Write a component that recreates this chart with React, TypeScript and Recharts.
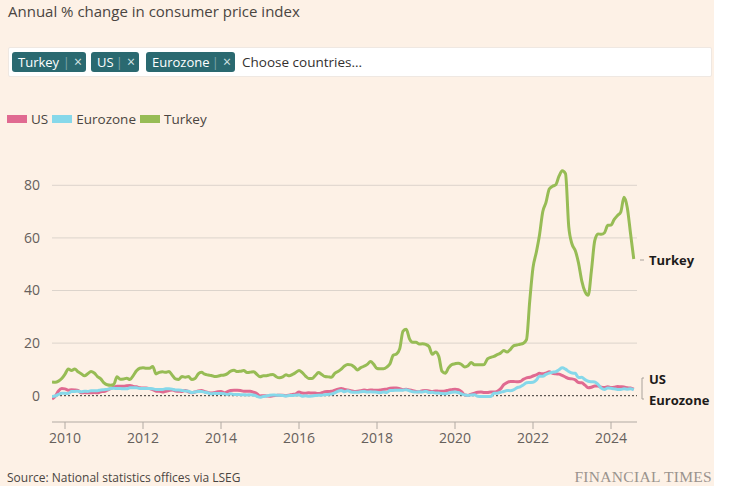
import React from 'react';
import { LineChart, Line, XAxis, YAxis, CartesianGrid, ReferenceLine } from 'recharts';

// Monthly series, September 2009 to August 2024
const START_YEAR = 2009;
const START_MONTH_INDEX = 8; // September (0-based)

const turkey = [
  5.27, 5.08, 5.53, 6.53,
  8.19, 10.13, 9.56, 10.19, 9.10, 8.37, 7.58, 8.33, 9.24, 8.62, 7.29, 6.40,
  4.90, 4.16, 3.99, 4.26, 7.17, 6.24, 6.31, 6.65, 6.15, 7.66, 9.48, 10.45,
  10.61, 10.43, 10.43, 11.14, 8.28, 8.87, 9.07, 8.88, 9.19, 7.80, 6.37, 6.16,
  7.31, 7.03, 7.29, 6.13, 6.51, 8.30, 8.88, 8.17, 7.88, 7.71, 7.32, 7.40,
  7.75, 7.89, 8.39, 9.38, 9.66, 9.16, 9.32, 9.54, 8.86, 8.96, 9.15, 8.17,
  7.24, 7.55, 7.61, 7.91, 8.09, 7.20, 6.81, 7.14, 7.95, 7.58, 8.10, 8.81,
  9.58, 8.78, 7.46, 6.57, 6.58, 7.64, 8.79, 8.05, 7.28, 7.16, 7.00, 8.53,
  9.22, 10.13, 11.29, 11.87, 11.72, 10.90, 9.79, 10.68, 11.20, 11.90, 12.98, 11.92,
  10.35, 10.26, 10.23, 10.85, 12.15, 15.39, 15.85, 17.90, 24.52, 25.24, 21.62, 20.30,
  20.35, 19.67, 19.71, 19.50, 18.71, 15.72, 16.65, 15.01, 9.26, 8.55, 10.56, 11.84,
  12.15, 12.37, 11.86, 10.94, 11.39, 12.62, 11.76, 11.77, 11.75, 11.89, 14.03, 14.60,
  14.97, 15.61, 16.19, 17.14, 16.59, 17.53, 18.95, 19.25, 19.58, 19.89, 21.31, 36.08,
  48.69, 54.44, 61.14, 69.97, 73.50, 78.62, 79.60, 80.21, 83.45, 85.51, 84.39, 64.27,
  57.68, 55.18, 50.51, 43.68, 39.59, 38.21, 47.83, 58.94, 61.53, 61.36, 61.98, 64.77,
  64.86, 67.07, 68.50, 69.80, 75.45, 71.60, 61.78, 51.97,
];

const us = [
  -1.3, -0.2, 1.8, 2.7,
  2.6, 2.1, 2.3, 2.2, 2.0, 1.1, 1.2, 1.1, 1.1, 1.2, 1.1, 1.5,
  1.6, 2.1, 2.7, 3.2, 3.6, 3.6, 3.6, 3.8, 3.9, 3.5, 3.4, 3.0,
  2.9, 2.9, 2.7, 2.3, 1.7, 1.7, 1.4, 1.7, 2.0, 2.2, 1.8, 1.7,
  1.6, 2.0, 1.5, 1.1, 1.4, 1.8, 2.0, 1.5, 1.2, 1.0, 1.2, 1.5,
  1.6, 1.1, 1.5, 2.0, 2.1, 2.1, 2.0, 1.7, 1.7, 1.7, 1.3, 0.8,
  -0.1, 0.0, -0.1, -0.2, 0.0, 0.1, 0.2, 0.2, 0.0, 0.2, 0.5, 0.7,
  1.4, 1.0, 0.9, 1.1, 1.0, 1.0, 0.8, 1.1, 1.5, 1.6, 1.7, 2.1,
  2.5, 2.7, 2.4, 2.2, 1.9, 1.6, 1.7, 1.9, 2.2, 2.0, 2.2, 2.1,
  2.1, 2.2, 2.4, 2.5, 2.8, 2.9, 2.9, 2.7, 2.3, 2.5, 2.2, 1.9,
  1.6, 1.5, 1.9, 2.0, 1.8, 1.6, 1.8, 1.7, 1.7, 1.8, 2.1, 2.3,
  2.5, 2.3, 1.5, 0.3, 0.1, 0.6, 1.0, 1.3, 1.4, 1.2, 1.2, 1.4,
  1.4, 1.7, 2.6, 4.2, 5.0, 5.4, 5.4, 5.3, 5.4, 6.2, 6.8, 7.0,
  7.5, 7.9, 8.5, 8.3, 8.6, 9.1, 8.5, 8.3, 8.2, 7.7, 7.1, 6.5,
  6.4, 6.0, 5.0, 4.9, 4.0, 3.0, 3.2, 3.7, 3.7, 3.2, 3.1, 3.4,
  3.1, 3.2, 3.5, 3.4, 3.3, 3.0, 2.9, 2.5,
];

const eurozone = [
  -0.3, -0.1, 0.5, 0.9,
  0.9, 0.8, 1.6, 1.6, 1.7, 1.5, 1.7, 1.6, 1.9, 1.9, 1.9, 2.2,
  2.3, 2.4, 2.7, 2.8, 2.7, 2.7, 2.6, 2.6, 3.0, 3.0, 3.0, 2.7,
  2.7, 2.7, 2.7, 2.6, 2.4, 2.4, 2.4, 2.6, 2.6, 2.5, 2.2, 2.2,
  2.0, 1.8, 1.7, 1.2, 1.4, 1.6, 1.6, 1.3, 1.1, 0.7, 0.9, 0.8,
  0.8, 0.7, 0.5, 0.7, 0.5, 0.5, 0.4, 0.4, 0.3, 0.4, 0.3, -0.2,
  -0.6, -0.3, -0.1, 0.2, 0.3, 0.2, 0.2, 0.1, -0.1, 0.1, 0.1, 0.2,
  0.3, -0.2, 0.0, -0.2, -0.1, 0.1, 0.2, 0.2, 0.4, 0.5, 0.6, 1.1,
  1.7, 2.0, 1.5, 1.9, 1.4, 1.3, 1.3, 1.5, 1.6, 1.4, 1.5, 1.4,
  1.3, 1.1, 1.4, 1.2, 2.0, 2.0, 2.1, 2.1, 2.1, 2.3, 1.9, 1.5,
  1.4, 1.5, 1.4, 1.7, 1.2, 1.3, 1.0, 1.0, 0.8, 0.7, 1.0, 1.3,
  1.4, 1.2, 0.7, 0.3, 0.1, 0.3, 0.4, -0.2, -0.3, -0.3, -0.3, -0.3,
  0.9, 0.9, 1.3, 1.6, 2.0, 1.9, 2.2, 3.0, 3.4, 4.1, 4.9, 5.0,
  5.1, 5.9, 7.4, 7.4, 8.1, 8.6, 8.9, 9.1, 9.9, 10.6, 10.1, 9.2,
  8.6, 8.5, 6.9, 7.0, 6.1, 5.5, 5.3, 5.2, 4.3, 2.9, 2.4, 2.9,
  2.8, 2.6, 2.4, 2.4, 2.6, 2.5, 2.6, 2.2,
];

const yearTicks = [2010, 2012, 2014, 2016, 2018, 2020, 2022, 2024];
const valueTicks = [0, 20, 40, 60, 80];
const gridValues = [20, 40, 60, 80];
const selectedCountries = ['Turkey', 'US', 'Eurozone'];

const COLORS = {
  us: '#e06a91',
  eurozone: '#86d8ea',
  turkey: '#97bc55',
};

const data = turkey.map((t, i) => {
  const m = START_MONTH_INDEX + i;
  return {
    date: START_YEAR + m / 12,
    turkey: t,
    us: us[i],
    eurozone: eurozone[i],
  };
});

const legendItems = [
  { name: 'US', color: COLORS.us },
  { name: 'Eurozone', color: COLORS.eurozone },
  { name: 'Turkey', color: COLORS.turkey },
];

const chipLefts = [12, 91, 146];
const chipWidths = [74, 48, 89];

export default function App() {
  return (
    <div
      style={{
        position: 'absolute',
        left: 0,
        top: 0,
        width: 736,
        height: 486,
        background: '#ffffff',
        overflow: 'hidden',
        fontFamily: '"Open Sans", sans-serif',
      }}
    >
      <div style={{ position: 'absolute', left: 0, top: 0, width: 714, height: 486, background: '#fdf1e6' }} />
      <div style={{ position: 'absolute', left: 8, top: 1, fontSize: 15, color: '#4a4541', whiteSpace: 'nowrap' }}>
        Annual % change in consumer price index
      </div>
      <div
        style={{
          position: 'absolute',
          left: 8,
          top: 47,
          width: 702,
          height: 28,
          background: '#ffffff',
          border: '1px solid #efe8e2',
          borderRadius: 2,
        }}
      />
      {selectedCountries.map((c, i) => (
        <div
          key={c}
          style={{
            position: 'absolute',
            left: chipLefts[i],
            top: 52,
            width: chipWidths[i],
            height: 20,
            background: '#2a6970',
            borderRadius: 3,
            color: '#ffffff',
            fontSize: 13,
            lineHeight: '20px',
            display: 'flex',
            alignItems: 'center',
            boxSizing: 'border-box',
            paddingLeft: 6,
            paddingRight: 4,
            whiteSpace: 'nowrap',
          }}
        >
          <span style={{ flex: 1 }}>{c}</span>
          <span style={{ color: '#7fa6aa', fontSize: 13, marginRight: 4 }}>|</span>
          <span style={{ color: '#d5e4e5', fontSize: 14 }}>×</span>
        </div>
      ))}
      <div style={{ position: 'absolute', left: 242, top: 52, lineHeight: '20px', fontSize: 13.5, color: '#33302e', whiteSpace: 'nowrap' }}>
        Choose countries...
      </div>
      <div style={{ position: 'absolute', left: 7, top: 110, height: 18, display: 'flex', alignItems: 'center', fontSize: 13.5, color: '#4a4541' }}>
        {legendItems.map((it) => (
          <div key={it.name} style={{ display: 'flex', alignItems: 'center', marginRight: 4 }}>
            <div style={{ width: 20, height: 8, background: it.color, marginRight: 4 }} />
            <span>{it.name}</span>
          </div>
        ))}
      </div>
      <div style={{ position: 'absolute', left: 0, top: 0 }}>
        <LineChart
          width={736}
          height={486}
          data={data}
          margin={{ top: 159, right: 99, bottom: 34, left: 7 }}
        >
          <CartesianGrid horizontal vertical={false} stroke="#dcd4cc" horizontalValues={gridValues} />
          <XAxis
            dataKey="date"
            type="number"
            domain={[START_YEAR + START_MONTH_INDEX / 12, 2024 + 8 / 12]}
            ticks={yearTicks}
            tickFormatter={(v) => String(Math.round(v))}
            stroke="#b1aaa3"
            tickSize={7}
            tickMargin={4}
            tick={{ fill: '#66605c', fontSize: 14 }}
            allowDataOverflow
          />
          <YAxis
            type="number"
            domain={[-10, 90]}
            ticks={valueTicks}
            axisLine={false}
            tickLine={false}
            tickSize={0}
            tickMargin={12}
            width={45}
            tick={{ fill: '#66605c', fontSize: 14 }}
            allowDataOverflow
          />
          <ReferenceLine y={0} stroke="#33302e" strokeDasharray="2 2" strokeWidth={1} />
          <Line type="monotone" dataKey="us" stroke={COLORS.us} strokeWidth={3} dot={false} isAnimationActive={false} />
          <Line type="monotone" dataKey="eurozone" stroke={COLORS.eurozone} strokeWidth={3} dot={false} isAnimationActive={false} />
          <Line type="monotone" dataKey="turkey" stroke={COLORS.turkey} strokeWidth={3} dot={false} isAnimationActive={false} />
        </LineChart>
      </div>
      <svg style={{ position: 'absolute', left: 0, top: 0 }} width={736} height={486}>
        <line x1={640} x2={644} y1={260} y2={260} stroke="#a9a29b" strokeWidth={1} />
        <path d="M644,378 L642,378 L642,399 L644,399" fill="none" stroke="#a9a29b" strokeWidth={1} />
      </svg>
      <div style={{ position: 'absolute', left: 649, top: 251, fontSize: 13, fontWeight: 700, color: '#1d1b1a', lineHeight: '18px' }}>Turkey</div>
      <div style={{ position: 'absolute', left: 649, top: 370, fontSize: 13, fontWeight: 700, color: '#1d1b1a', lineHeight: '18px' }}>US</div>
      <div style={{ position: 'absolute', left: 649, top: 391, fontSize: 13, fontWeight: 700, color: '#1d1b1a', lineHeight: '18px' }}>Eurozone</div>
      <div style={{ position: 'absolute', left: 7, top: 470, fontSize: 12, color: '#4a4541', whiteSpace: 'nowrap', lineHeight: '16px' }}>
        Source: National statistics offices via LSEG
      </div>
      <div
        style={{
          position: 'absolute',
          right: 24,
          top: 468,
          fontSize: 15.5,
          color: '#9a938d',
          fontFamily: '"Liberation Serif", "DejaVu Serif", serif',
          letterSpacing: 0.3,
          whiteSpace: 'nowrap',
          lineHeight: '18px',
        }}
      >
        FINANCIAL TIMES
      </div>
    </div>
  );
}
